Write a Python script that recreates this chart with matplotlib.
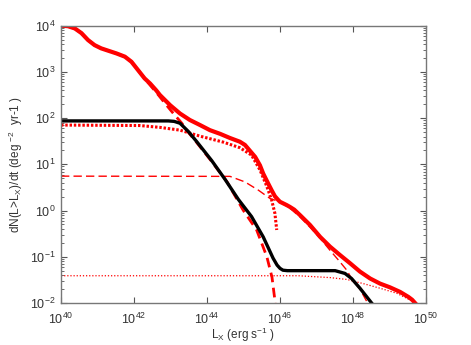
import numpy as np
import matplotlib
matplotlib.use('Agg')
import matplotlib.pyplot as plt
from matplotlib import ticker

plt.rcParams['font.family'] = ['Liberation Sans', 'DejaVu Sans']
plt.rcParams['mathtext.fontset'] = 'custom'
plt.rcParams['mathtext.rm'] = 'Liberation Sans'
plt.rcParams['mathtext.it'] = 'Liberation Sans'

# log10(L_X) / log10(dN/dt) for each curve
total_logL = [40.0, 40.19, 40.38, 40.56, 40.74, 40.92, 41.1, 41.29, 41.52, 41.75,
              41.93, 42.11, 42.29, 42.44, 42.61, 42.71, 42.99, 43.26, 43.53, 43.81,
              44.08, 44.36, 44.63, 44.9, 45.04, 45.32, 45.45, 45.54, 45.66, 45.77,
              45.86, 45.95, 46.0, 46.18, 46.27, 46.39, 46.55, 46.82, 47.1, 47.37,
              47.64, 47.92, 48.19, 48.47, 48.74, 49.01, 49.29, 49.52, 49.62, 49.7]
total_logN = [4.0, 3.99, 3.94, 3.84, 3.69, 3.58, 3.51, 3.46, 3.4, 3.33,
              3.22, 3.04, 2.86, 2.75, 2.6, 2.5, 2.28, 2.1, 1.96, 1.85,
              1.74, 1.66, 1.57, 1.49, 1.42, 1.16, 0.98, 0.8, 0.61, 0.44,
              0.31, 0.23, 0.19, 0.12, 0.08, 0.02, -0.1, -0.31, -0.57, -0.78,
              -0.96, -1.14, -1.32, -1.47, -1.58, -1.66, -1.76, -1.87, -1.93, -2.0]

compA_logL = [40.0, 40.19, 40.38, 40.56, 40.74, 40.92, 41.1, 41.29, 41.52, 41.75,
              41.93, 42.11, 42.29, 42.35, 42.67, 42.85, 43.08, 43.31, 43.44, 43.72,
              44.13, 44.55, 44.99, 45.36, 45.64, 45.78, 45.86, 45.87]
compA_logN = [4.0, 3.99, 3.94, 3.84, 3.69, 3.58, 3.51, 3.46, 3.4, 3.33,
              3.22, 3.04, 2.86, 2.8, 2.5, 2.32, 2.1, 1.89, 1.74, 1.47,
              1.06, 0.62, 0.01, -0.42, -1.0, -1.44, -1.94, -2.0]

black_logL = [40.0, 42.94, 43.1, 43.26, 43.49, 43.72, 44.13, 44.49, 44.86, 45.22,
              45.54, 45.81, 45.92, 46.0, 46.08, 46.2, 47.51, 47.78, 47.96, 48.19,
              48.38, 48.51]
black_logN = [1.94, 1.94, 1.93, 1.89, 1.71, 1.49, 1.08, 0.68, 0.24, -0.13,
              -0.57, -1.03, -1.18, -1.25, -1.29, -1.3, -1.3, -1.36, -1.47, -1.68,
              -1.87, -2.0]

compB_logL = [40.0, 42.16, 42.71, 43.26, 43.81, 44.45, 44.9, 45.22, 45.45, 45.64,
              45.77, 45.86, 45.91]
compB_logN = [1.85, 1.84, 1.8, 1.74, 1.61, 1.48, 1.36, 1.2, 0.88, 0.52,
              0.23, -0.06, -0.42]

compC_logL = [40.0, 44.63, 45.04, 45.41, 45.73, 46.0, 46.27, 46.55, 46.82, 47.1,
              47.37, 47.6, 47.83, 47.96, 48.19, 48.4]
compC_logN = [0.745, 0.74, 0.62, 0.44, 0.26, 0.19, 0.05, -0.14, -0.36, -0.6,
              -0.86, -1.07, -1.29, -1.47, -1.7, -2.0]

compD_logL = [40.0, 46.5, 47.37, 47.83, 48.28, 48.74, 49.2, 49.65, 49.68]
compD_logN = [-1.41, -1.41, -1.45, -1.49, -1.58, -1.68, -1.79, -1.97, -2.0]

fig = plt.figure(figsize=(4.71, 3.45), dpi=100)
ax = fig.add_axes([0.1295, 0.1217, 0.775, 0.8038])


def p(lx, ly):
    return 10 ** np.array(lx), 10 ** np.array(ly)


ax.plot(*p(compD_logL, compD_logN), color='red', lw=0.9, ls=(0, (1, 1.5)))
ax.plot(*p(compC_logL, compC_logN), color='red', lw=1.0, ls=(0, (6, 3)))
ax.plot(*p(compB_logL, compB_logN), color='red', lw=2.2, ls=(0, (0.8, 0.6)))
ax.plot(*p(compA_logL, compA_logN), color='red', lw=2.0, ls=(0, (3.5, 2)))
ax.plot(*p(black_logL, black_logN), color='black', lw=2.4, solid_joinstyle='round')
ax.plot(*p(total_logL, total_logN), color='red', lw=3.0, solid_joinstyle='round')

ax.set_xscale('log')
ax.set_yscale('log')
ax.set_xlim(1e40, 1e50)
ax.set_ylim(1e-2, 1e4)

ax.set_xticks([10.0 ** k for k in range(40, 51, 2)])
ax.set_xticklabels([r'$10^{%d}$' % k for k in range(40, 51, 2)])
ax.set_yticks([10.0 ** k for k in range(-2, 5)])
ax.set_yticklabels([r'$10^{%d}$' % k for k in range(-2, 5)])
ax.xaxis.set_minor_locator(ticker.NullLocator())
ax.yaxis.set_minor_locator(ticker.LogLocator(base=10, subs=np.arange(2, 10)))
ax.yaxis.set_minor_formatter(ticker.NullFormatter())

ax.tick_params(which='both', direction='in', top=True, right=True,
               colors='#555555', labelcolor='#333333', labelsize=9)
ax.tick_params(axis='x', pad=6)
ax.tick_params(axis='y', pad=4)
ax.tick_params(which='major', length=4)
ax.tick_params(which='minor', length=2)
for s in ax.spines.values():
    s.set_color('#777777')
    s.set_linewidth(1.0)

ax.set_xlabel(r'L$_{\rm X}$ (erg s$^{-1}$ )', fontsize=8.5, color='#333333')
ax.set_ylabel(r'dN(L>L$_{\rm X}$)/dt (deg $^{-2}$  yr-1 )', fontsize=8.5, color='#333333')
ax.xaxis.set_label_coords(0.5, -0.083)
ax.yaxis.set_label_coords(-0.099, 0.5)

fig.savefig('out.png', dpi=100)
